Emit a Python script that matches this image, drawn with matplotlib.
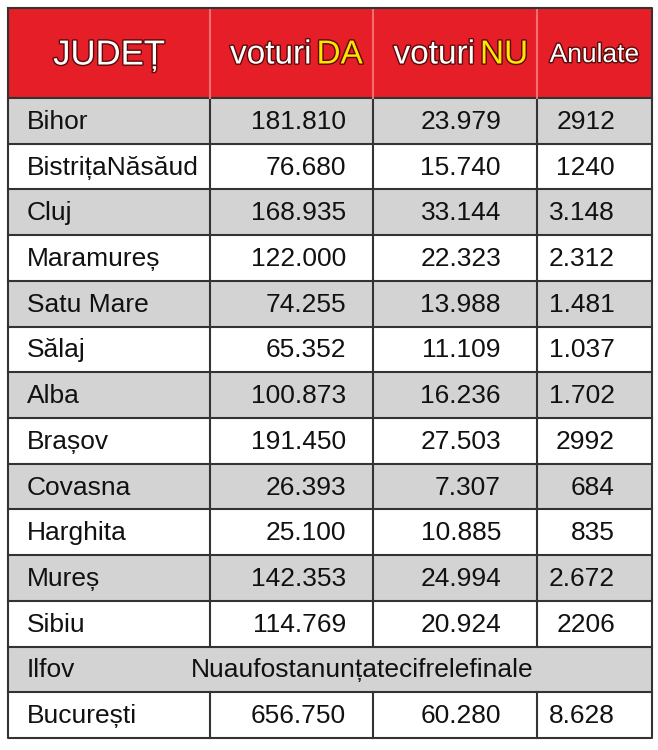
import matplotlib.pyplot as plt
import matplotlib.patches as mpatches
import matplotlib.patheffects as pe

plt.rcParams['font.family'] = ['Liberation Sans Narrow', 'Liberation Sans', 'DejaVu Sans']

judete = ['Bihor', 'BistrițaNăsăud', 'Cluj', 'Maramureș', 'Satu Mare', 'Sălaj', 'Alba',
          'Brașov', 'Covasna', 'Harghita', 'Mureș', 'Sibiu', 'Ilfov', 'București']
voturi_da = ['181.810', '76.680', '168.935', '122.000', '74.255', '65.352', '100.873',
             '191.450', '26.393', '25.100', '142.353', '114.769', '', '656.750']
voturi_nu = ['23.979', '15.740', '33.144', '22.323', '13.988', '11.109', '16.236',
             '27.503', '7.307', '10.885', '24.994', '20.924', '', '60.280']
anulate = ['2912', '1240', '3.148', '2.312', '1.481', '1.037', '1.702',
           '2992', '684', '835', '2.672', '2206', '', '8.628']
nota_ilfov = 'Nuaufostanunțatecifrelefinale'

fig = plt.figure(figsize=(6.58, 7.5), dpi=100)
ax = fig.add_axes([0, 0, 1, 1])
ax.set_xlim(0, 658)
ax.set_ylim(750, 0)
ax.axis('off')

cols = [8, 210, 373, 537, 652]
top, head_bot, bot = 8, 98, 738
rh = (bot - head_bot) / len(judete)
line = '#333333'
fs = 19

# header
ax.add_patch(mpatches.Rectangle((cols[0], top), cols[-1] - cols[0], head_bot - top,
                                facecolor='#e61e27', edgecolor='none'))
outline = [pe.withStroke(linewidth=2, foreground='#5a0a0a')]
hy = (top + head_bot) / 2 + 2
ax.text((cols[0] + cols[1]) / 2, hy, 'JUDEȚ', color='white', fontsize=25,
        ha='center', va='center', path_effects=outline)
for c0, c1, w in [(cols[1], cols[2], 'DA'), (cols[2], cols[3], 'NU')]:
    mid = (c0 + c1) / 2 + 20
    ax.text(mid, hy, 'voturi', color='white', fontsize=24, ha='right', va='center',
            path_effects=outline)
    ax.text(mid + 5, hy, w, color='#ffe500', fontsize=24, ha='left', va='center',
            path_effects=outline)
ax.text((cols[3] + cols[4]) / 2, hy, 'Anulate', color='white', fontsize=19,
        ha='center', va='center', path_effects=outline)

# rows
for i, name in enumerate(judete):
    y0 = head_bot + i * rh
    fc = '#d3d3d3' if i % 2 == 0 else 'white'
    ax.add_patch(mpatches.Rectangle((cols[0], y0), cols[-1] - cols[0], rh,
                                    facecolor=fc, edgecolor='none'))
    yc = y0 + rh / 2 + 1
    ax.text(27, yc, name, fontsize=fs, ha='left', va='center', color='#111111')
    if name == 'Ilfov':
        ax.text(362, yc, nota_ilfov, fontsize=fs, ha='center', va='center', color='#111111')
    else:
        ax.text(346, yc, voturi_da[i], fontsize=fs, ha='right', va='center', color='#111111')
        ax.text(501, yc, voturi_nu[i], fontsize=fs, ha='right', va='center', color='#111111')
        ax.text(615, yc, anulate[i], fontsize=fs, ha='right', va='center', color='#111111')
    ax.plot([cols[0], cols[-1]], [y0, y0], color=line, lw=1.5)
    if name != 'Ilfov':
        for c in cols[1:-1]:
            ax.plot([c, c], [y0, y0 + rh], color=line, lw=1.5)

for c in cols[1:-1]:
    ax.plot([c, c], [top, head_bot], color='#f07070', lw=1.5)
ax.plot([cols[0], cols[-1], cols[-1], cols[0], cols[0]], [top, top, bot, bot, top],
        color=line, lw=1.5)

fig.savefig('out.png', dpi=100)
